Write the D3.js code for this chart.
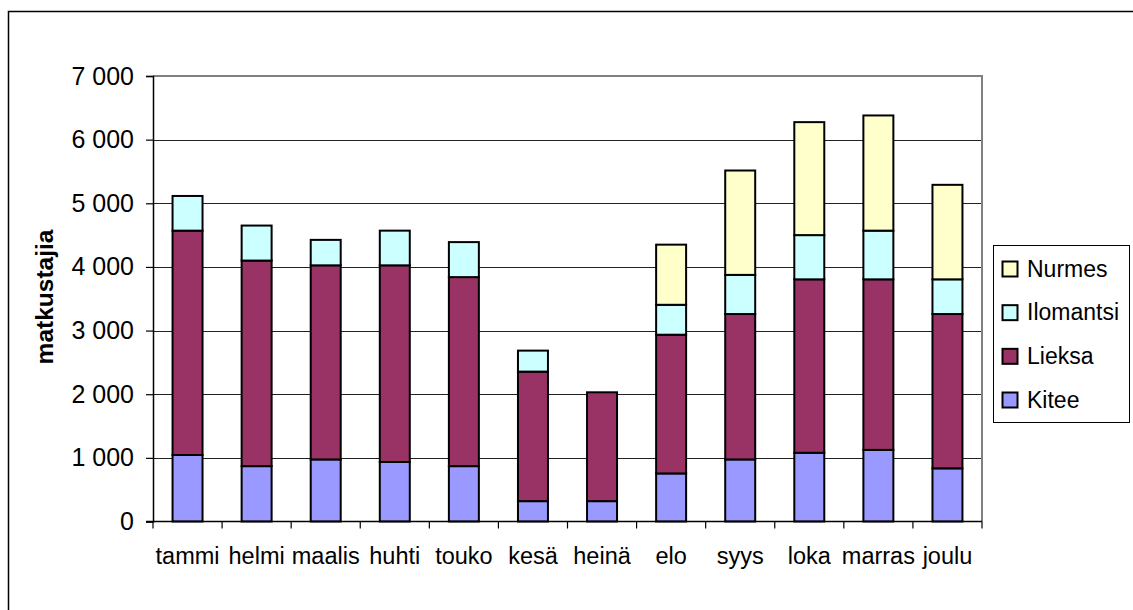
<!DOCTYPE html>
<html>
<head>
<meta charset="utf-8">
<script src="https://cdn.jsdelivr.net/npm/d3@7/dist/d3.min.js"></script>
<style>
  html, body { margin: 0; padding: 0; background: #fff; }
  svg { display: block; font-family: "Liberation Sans", Arial, sans-serif; }
</style>
</head>
<body>
<svg id="chart" width="1133" height="610"></svg>
<script>
// Monthly passengers per route
const months = ["tammi", "helmi", "maalis", "huhti", "touko", "kesä", "heinä", "elo", "syys", "loka", "marras", "joulu"];
const seriesNames = ["Kitee", "Lieksa", "Ilomantsi", "Nurmes"];
const kitee     = [1045, 870, 975, 935, 870, 320, 320, 755, 975, 1080, 1125, 835];
const lieksa    = [3525, 3230, 3050, 3090, 2970, 2035, 1710, 2180, 2285, 2725, 2680, 2425];
const ilomantsi = [545, 550, 400, 545, 550, 330, 0, 470, 615, 695, 765, 545];
const nurmes    = [0, 0, 0, 0, 0, 0, 0, 945, 1640, 1775, 1810, 1485];
const yTicks = [0, 1000, 2000, 3000, 4000, 5000, 6000, 7000];
const yTitle = "matkustajia";
const colors = ["#9999FF", "#993366", "#CCFFFF", "#FFFFCC"];

const rows = months.map((m, i) => ({
  month: m, Kitee: kitee[i], Lieksa: lieksa[i], Ilomantsi: ilomantsi[i], Nurmes: nurmes[i]
}));
const stacked = d3.stack().keys(seriesNames)(rows);

const svg = d3.select("#chart");
const plot = { left: 153, right: 982, top: 76, bottom: 521.5 };

const fmt = d3.formatLocale({ decimal: ",", thousands: "\u00a0", grouping: [3], currency: ["", " €"] }).format(",d");

// outer chart frame (right and bottom edges fall outside the page)
svg.append("rect")
  .attr("x", 8.5).attr("y", 11.5)
  .attr("width", 1200).attr("height", 700)
  .attr("fill", "#fff").attr("stroke", "#000").attr("stroke-width", 1.5);

const y = d3.scaleLinear().domain([0, 7000]).range([plot.bottom, plot.top]);
const xCat = d3.scaleBand().domain(months).range([plot.left, plot.right]).padding(0);
const xBar = d3.scaleBand().domain(months).range([plot.left, plot.right])
  .paddingInner(0.566).paddingOuter(0.283);

// gridlines
svg.append("g").selectAll("line")
  .data(yTicks.filter(v => v > 0 && v < 7000))
  .join("line")
  .attr("x1", plot.left).attr("x2", plot.right)
  .attr("y1", d => Math.round(y(d)) + 0.5).attr("y2", d => Math.round(y(d)) + 0.5)
  .attr("stroke", "#222").attr("stroke-width", 1);

// plot-area border (top and right)
svg.append("path")
  .attr("d", `M${plot.left},${plot.top} H${plot.right} V${plot.bottom}`)
  .attr("fill", "none").attr("stroke", "#808080").attr("stroke-width", 2);

// stacked bars
svg.append("g").selectAll("g")
  .data(stacked)
  .join("g")
  .attr("fill", (d, i) => colors[i])
  .selectAll("rect")
  .data(d => d.filter(s => s[1] - s[0] > 0))
  .join("rect")
  .attr("x", d => xBar(d.data.month))
  .attr("width", xBar.bandwidth())
  .attr("y", d => y(d[1]))
  .attr("height", d => y(d[0]) - y(d[1]))
  .attr("stroke", "#000").attr("stroke-width", 2);

// y axis
const yAxis = svg.append("g")
  .attr("transform", `translate(${plot.left},0)`)
  .call(d3.axisLeft(y).tickValues(yTicks).tickFormat(fmt).tickSize(7).tickPadding(12));
yAxis.select(".domain").attr("stroke", "#000").attr("stroke-width", 1.5);
yAxis.selectAll(".tick line").attr("stroke", "#000").attr("stroke-width", 1.2);
yAxis.selectAll("text").attr("font-size", 25).attr("fill", "#000")
  .attr("font-family", "'Liberation Sans', Arial, sans-serif");

// x axis: ticks at category boundaries, labels centred under each bar
const xg = svg.append("g");
xg.append("line")
  .attr("x1", plot.left - 7).attr("x2", plot.right)
  .attr("y1", plot.bottom).attr("y2", plot.bottom)
  .attr("stroke", "#000").attr("stroke-width", 1.5);
const boundaries = months.map(m => xCat(m)).concat([plot.right]);
xg.selectAll("line.tick")
  .data(boundaries)
  .join("line").attr("class", "tick")
  .attr("x1", d => d).attr("x2", d => d)
  .attr("y1", plot.bottom).attr("y2", plot.bottom + 7)
  .attr("stroke", "#000").attr("stroke-width", 1.2);
xg.selectAll("text")
  .data(months)
  .join("text")
  .attr("x", d => xCat(d) + xCat.bandwidth() / 2)
  .attr("y", 564)
  .attr("text-anchor", "middle")
  .attr("font-size", 23.5)
  .text(d => d);

// y-axis title
svg.append("text")
  .attr("transform", "translate(53,297) rotate(-90)")
  .attr("text-anchor", "middle")
  .attr("font-size", 24.5).attr("font-weight", "bold")
  .text(yTitle);

// legend (top series first)
const legend = svg.append("g");
legend.append("rect")
  .attr("x", 993.5).attr("y", 245.5).attr("width", 136).attr("height", 177)
  .attr("fill", "#fff").attr("stroke", "#000").attr("stroke-width", 1);
const legendOrder = seriesNames.map((n, i) => ({ name: n, color: colors[i] })).reverse();
const ly = d3.scalePoint().domain(legendOrder.map(d => d.name)).range([268, 399]);
const item = legend.selectAll("g.item")
  .data(legendOrder)
  .join("g").attr("class", "item")
  .attr("transform", d => `translate(0,${ly(d.name)})`);
item.append("rect")
  .attr("x", 1002.5).attr("y", -6.5).attr("width", 15).attr("height", 15)
  .attr("fill", d => d.color).attr("stroke", "#000").attr("stroke-width", 2);
item.append("text")
  .attr("x", 1027).attr("y", 8.5)
  .attr("font-size", 23)
  .text(d => d.name);
</script>
</body>
</html>
